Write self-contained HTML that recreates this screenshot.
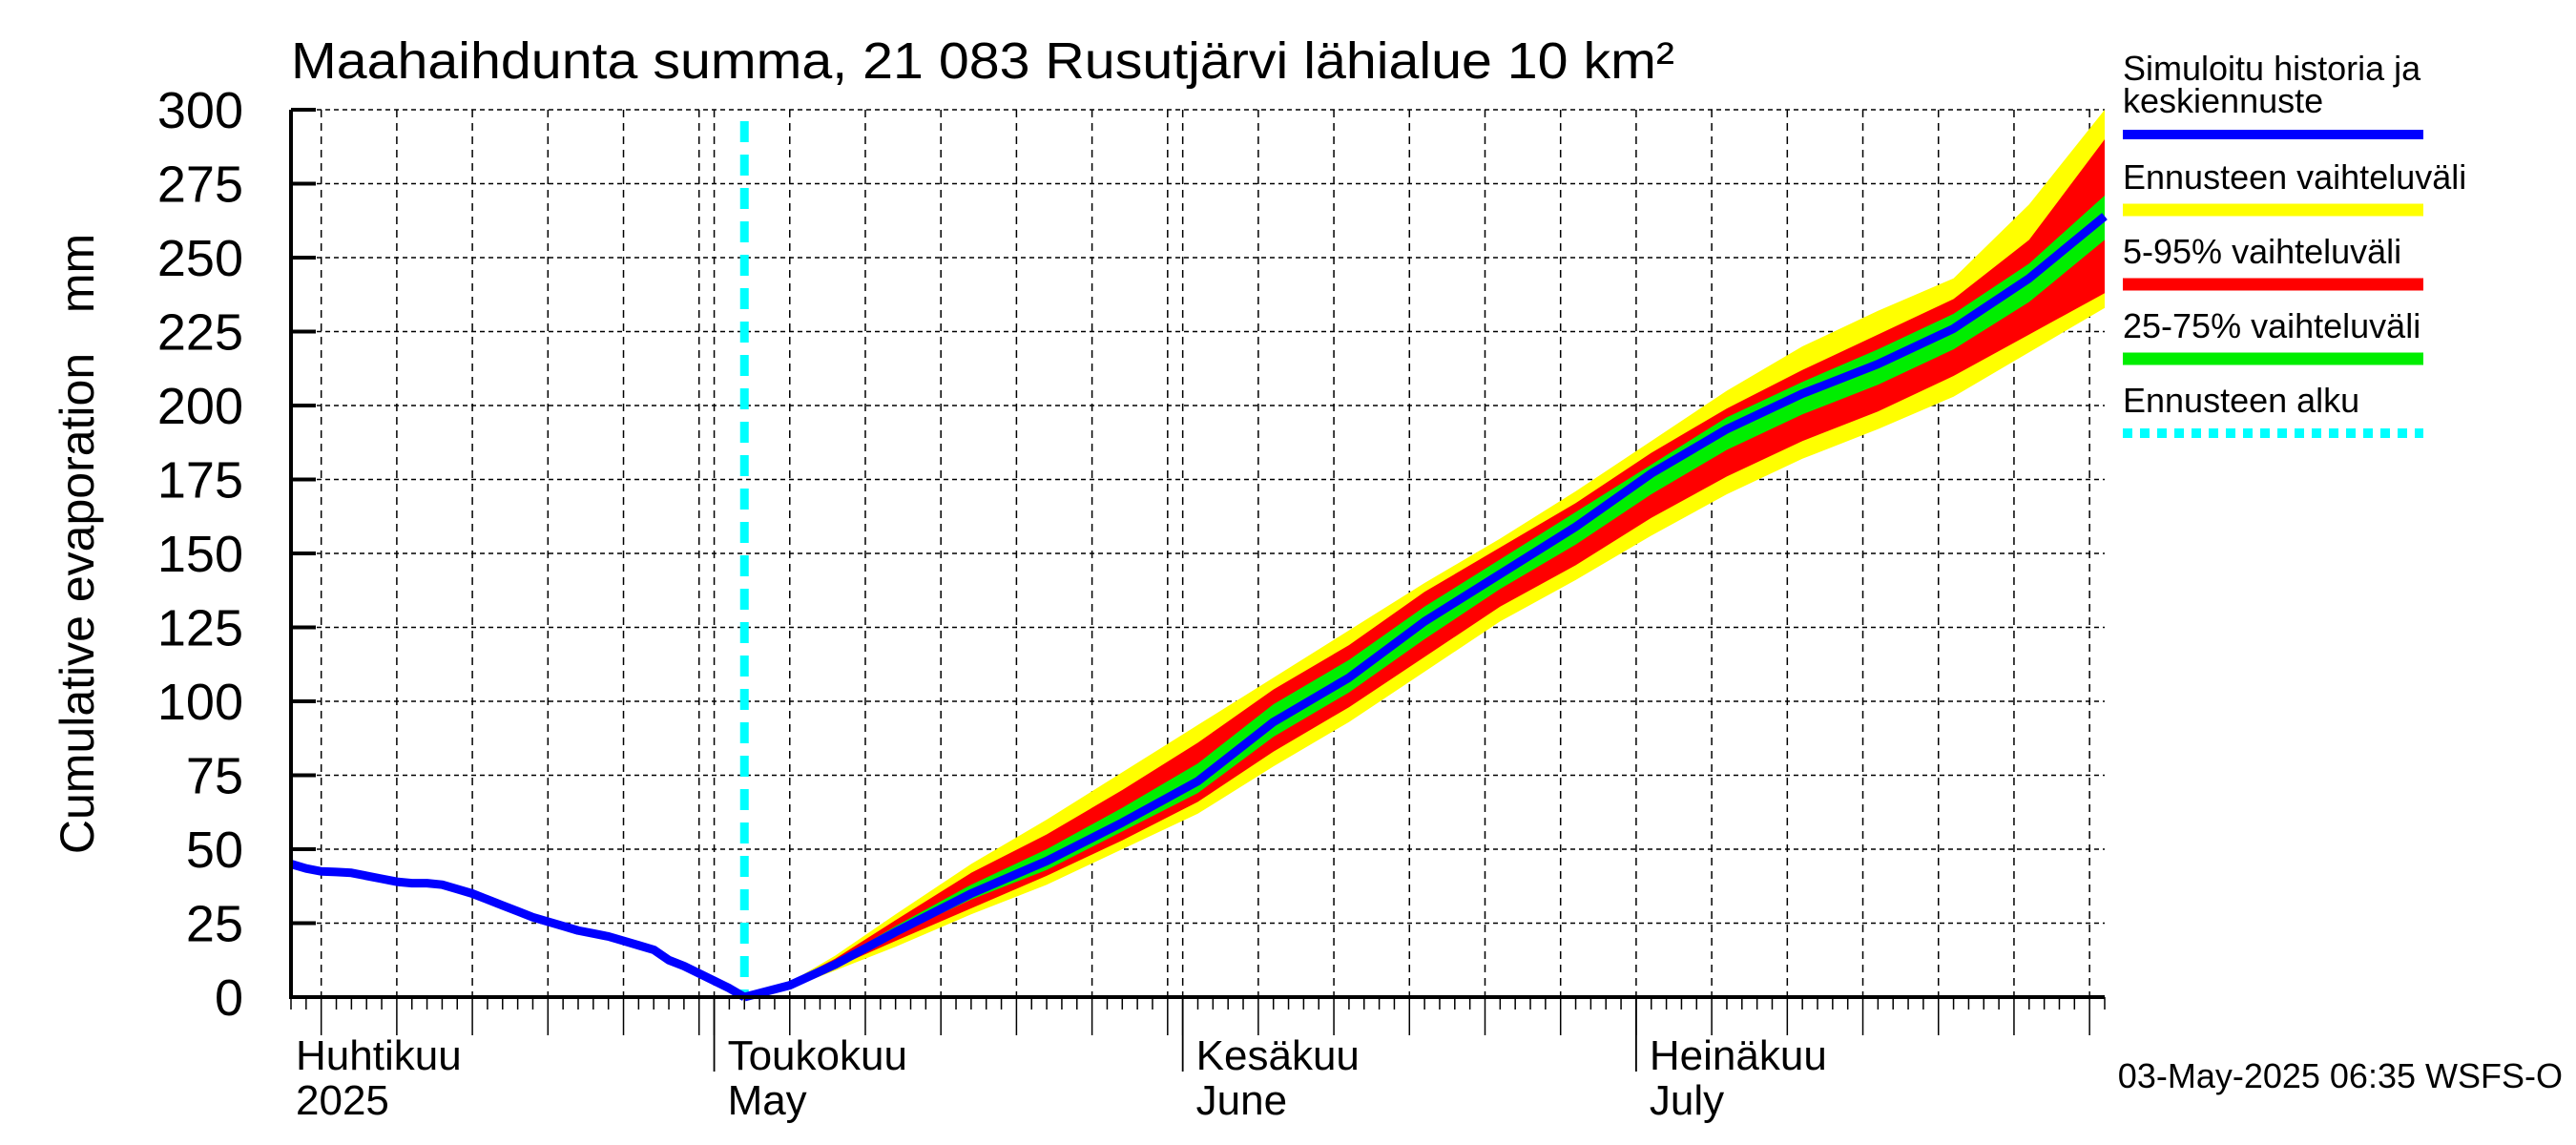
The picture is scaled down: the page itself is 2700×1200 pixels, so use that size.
<!DOCTYPE html>
<html><head><meta charset="utf-8"><style>
html,body{margin:0;padding:0;background:#fff;}
svg{display:block;font-family:"Liberation Sans",sans-serif;}
</style></head><body>
<svg id="chart" width="2700" height="1200" viewBox="0 0 2700 1200" xmlns="http://www.w3.org/2000/svg">
<rect width="2700" height="1200" fill="#fff"/>
<text x="305" y="82" font-size="54" textLength="1450" lengthAdjust="spacingAndGlyphs">Maahaihdunta summa, 21 083 Rusutjärvi lähialue 10 km²</text>
<text transform="translate(98,570) rotate(-90)" font-size="50" text-anchor="middle" style="white-space:pre" xml:space="preserve">Cumulative evaporation   mm</text>
<g id="grid"></g>
<g id="bands"></g>
<g id="lines"></g>
<g id="axes"></g>
<g id="legend"></g>
<text x="2686" y="1140" font-size="36" text-anchor="end">03-May-2025 06:35 WSFS-O</text>
</svg>
<script>
// day 0 = 3 Apr 2025, day 120 = 1 Aug 2025
const yTicks = [0,25,50,75,100,125,150,175,200,225,250,275,300];
const histDays = [0,1,2,3,4,5,6,7,8,9,10,11,12,13,14,15,16,17,18,19,20,21,22,23,24,25,26,27,28,29,30];
const histValues = [45,43.5,42.5,42.3,42,41,40,39,38.5,38.5,38,36.5,35,33,31,29,27,25.5,24,22.5,21.5,20.5,19,17.5,16,12.5,10.5,8,5.5,3,0];
const fcDays = [30,33,36,40,45,50,55,60,65,70,75,80,85,90,95,100,105,110,115,120];
const median = [0,4,11,22,35,46,59,73,93,108,127,143,159,177,192,204,214,226,243,264];
const yellowHigh = [0,5,14,28,45,60,76,92,108,124,140,155,171,188,205,220,232,243,268,300];
const yellowLow = [0,3,9,17,28,38,50,62,78,93,110,127,141,156,170,182,192,203,218,233];
const redHigh = [0,5,13,26,42,55,70,86,104,119,137,152,167,184,199,212,224,236,256,290];
const redLow = [0,3,10,19,30,41,53,66,83,98,115,132,146,162,176,188,198,210,224,238];
const greenHigh = [0,4,12,24,38,50,64,79,99,114,132,148,164,180,196,208,219,231,248,271];
const greenLow = [0,3,11,21,33,43,56,69,88,103,121,138,153,170,185,197,207,219,235,256];
const forecastStartDay = 30;
const monthStarts = [{day:-2,fi:"Huhtikuu",en:"2025"},{day:28,fi:"Toukokuu",en:"May"},{day:59,fi:"Kesäkuu",en:"June"},{day:89,fi:"Heinäkuu",en:"July"}];

const NS="http://www.w3.org/2000/svg";
const X0=305,X1=2206,Y0=1045,Y1=115,DAYS=120,VMAX=300;
const xs=d=>X0+d*(X1-X0)/DAYS;
const ys=v=>Y0-v*(Y0-Y1)/VMAX;
function mk(tag,attrs,parent){const e=document.createElementNS(NS,tag);for(const k in attrs)e.setAttribute(k,attrs[k]);parent.appendChild(e);return e;}
const grid=document.getElementById('grid'),bands=document.getElementById('bands'),lines=document.getElementById('lines'),axes=document.getElementById('axes'),legend=document.getElementById('legend');

function dom(d){if(d<28)return {m:3,dd:d+3};if(d<59)return {m:4,dd:d-28};if(d<89)return {m:5,dd:d-59};if(d<120)return {m:6,dd:d-89};return {m:7,dd:d-119};}

yTicks.forEach(v=>{
  const g=mk('line',{x1:X0,x2:X1,y1:ys(v),y2:ys(v),stroke:'#000','stroke-width':1.5,'stroke-dasharray':'5,4'},grid);
  
  
  const t=mk('line',{x1:X0,x2:X0+26,y1:ys(v),y2:ys(v),stroke:'#000','stroke-width':4},axes);
  
  
  const l=mk('text',{x:255,y:ys(v)+19,'font-size':54,'text-anchor':'end'},axes);
  l.textContent=v;
  
  
});
for(let d=0;d<=DAYS;d++){
  const {dd}=dom(d);
  const five = dd%5===0 && dd<=30;
  if(five){
    const g=mk('line',{x1:xs(d),x2:xs(d),y1:Y1,y2:Y0,stroke:'#000','stroke-width':1.5,'stroke-dasharray':'8,6'},grid);
    
    
  }
  const t=mk('line',{x1:xs(d),x2:xs(d),y1:Y0,y2:Y0+(five?40:13),stroke:'#000','stroke-width':1.5},axes);
  
  
}
monthStarts.forEach((m,i)=>{
  if(m.day>=0){
    const t=mk('line',{x1:xs(m.day),x2:xs(m.day),y1:Y0,y2:Y0+78,stroke:'#000','stroke-width':1.8},axes);
    
    
  }
  const x=Math.max(X0+5,xs(m.day)+14);
  const a=mk('text',{x:x,y:1121,'font-size':44},axes);a.textContent=m.fi;
  
  
  const b=mk('text',{x:x,y:1168,'font-size':44},axes);b.textContent=m.en;
  
  
});

function band(hi,lo,color,name){
  let p=fcDays.map((d,i)=>xs(d)+','+ys(hi[i]));
  p=p.concat(fcDays.slice().reverse().map((d,j)=>xs(d)+','+ys(lo[fcDays.length-1-j])));
  const e=mk('polygon',{points:p.join(' '),fill:color},bands);
  
  
}
band(yellowHigh,yellowLow,'#ffff00','band-forecast-range');
band(redHigh,redLow,'#ff0000','band-5-95');
band(greenHigh,greenLow,'#00ee00','band-25-75');

const fl=mk('line',{x1:xs(forecastStartDay),x2:xs(forecastStartDay),y1:Y1+12,y2:Y0,stroke:'#00ffff','stroke-width':9,'stroke-dasharray':'22,13'},lines);


const hp=mk('polyline',{points:histDays.map((d,i)=>xs(d)+','+ys(histValues[i])).join(' '),fill:'none',stroke:'#0000ff','stroke-width':9,'stroke-linejoin':'round'},lines);


const mp=mk('polyline',{points:fcDays.map((d,i)=>xs(d)+','+ys(median[i])).join(' '),fill:'none',stroke:'#0000ff','stroke-width':9,'stroke-linejoin':'round'},lines);



const ax=mk('polyline',{points:`${X0},${Y1} ${X0},${Y0} ${X1},${Y0}`,fill:'none',stroke:'#000','stroke-width':4},axes);



const leg=[
 {t:["Simuloitu historia ja","keskiennuste"],y:[84,118],by:141,c:'#0000ff',w:10,dash:null,n:'legend-simulated'},
 {t:["Ennusteen vaihteluväli"],y:[198],by:220,c:'#ffff00',w:13,dash:null,n:'legend-forecast-range'},
 {t:["5-95% vaihteluväli"],y:[276],by:298,c:'#ff0000',w:13,dash:null,n:'legend-5-95'},
 {t:["25-75% vaihteluväli"],y:[354],by:376,c:'#00ee00',w:13,dash:null,n:'legend-25-75'},
 {t:["Ennusteen alku"],y:[432],by:454,c:'#00ffff',w:10,dash:'10,8',n:'legend-forecast-start'}
];
leg.forEach(L=>{
  const g=mk('g',{},legend);
  
  
  L.t.forEach((s,i)=>{const e=mk('text',{x:2225,y:L.y[i],'font-size':36},g);e.textContent=s;});
  const a={x1:2225,x2:2540,y1:L.by,y2:L.by,stroke:L.c,'stroke-width':L.w};
  if(L.dash)a['stroke-dasharray']=L.dash;
  mk('line',a,g);
});
</script>
</body></html>
